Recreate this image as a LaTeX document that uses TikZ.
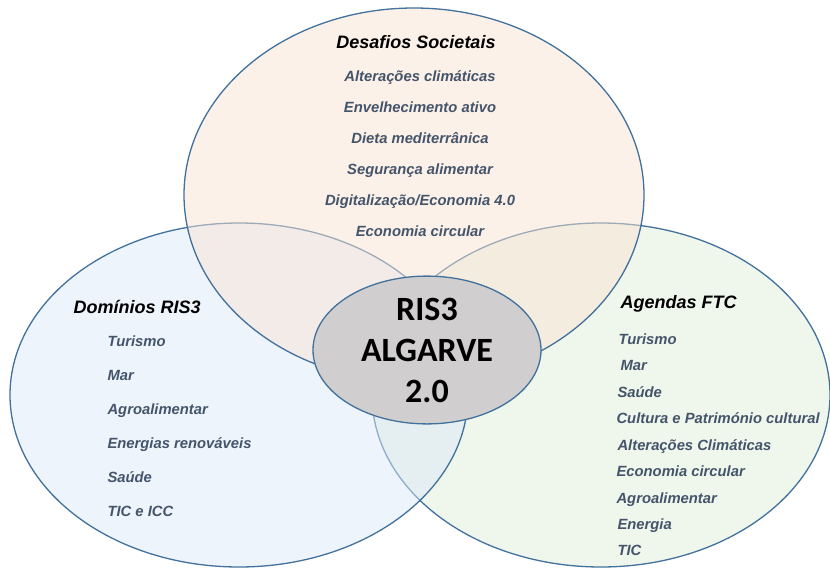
\documentclass[tikz,border=0pt]{standalone}
\usepackage{fontspec}
\setmainfont{Liberation Sans}
\newfontfamily\corefont{Carlito}
\usetikzlibrary{shapes.geometric}
\definecolor{setline}{HTML}{41719C}
\definecolor{desafiosfill}{HTML}{F9E3D3}
\definecolor{dominiosfill}{HTML}{DDE9F7}
\definecolor{agendasfill}{HTML}{DFEDD9}
\definecolor{corefill}{HTML}{D0CECE}
\definecolor{itemtext}{HTML}{44546A}
\begin{document}
\begin{tikzpicture}[x=1pt,y=-1pt,
  venn/.style={ellipse,draw=setline,line width=1.3pt,fill opacity=0.5,inner sep=0pt},
  head/.style={font=\fontsize{18}{20}\selectfont\bfseries\itshape,text=black,
    text height=13pt,text depth=0pt},
  item/.style={font=\fontsize{14.8}{17}\selectfont\bfseries\itshape,text=itemtext,
    text height=10.8pt,text depth=0pt}]
\useasboundingbox (0,0) rectangle (830,568);

% the three sets
\node[venn,fill=agendasfill,minimum width=458pt,minimum height=344pt] (agendas) at (601,395) {};
\node[venn,fill=dominiosfill,minimum width=458pt,minimum height=344pt] (dominios) at (239,395) {};
\node[venn,fill=desafiosfill,minimum width=460pt,minimum height=374pt] (desafios) at (414,195) {};

% core
\node[ellipse,draw=setline,line width=1.3pt,fill=corefill,inner sep=0pt,
  minimum width=228pt,minimum height=136pt,align=center,
  font=\corefont\bfseries\fontsize{34}{41}\selectfont] (core) at (427,350) {RIS3\\ALGARVE\\2.0};

% Desafios Societais
\node[head] (dstitle) at (416,42) {Desafios Societais};
\node[item] (ds1) at (420,76) {Alterações climáticas};
\node[item] (ds2) at (420,107) {Envelhecimento ativo};
\node[item] (ds3) at (420,138) {Dieta mediterrânica};
\node[item] (ds4) at (420,169) {Segurança alimentar};
\node[item] (ds5) at (420,200) {Digitalização/Economia 4.0};
\node[item] (ds6) at (420,231) {Economia circular};

% Dominios RIS3
\node[head,anchor=west] (drtitle) at (70,307) {Domínios RIS3};
\node[item,anchor=west] (dr1) at (104,341) {Turismo};
\node[item,anchor=west] (dr2) at (104,375) {Mar};
\node[item,anchor=west] (dr3) at (104,409) {Agroalimentar};
\node[item,anchor=west] (dr4) at (104,443) {Energias renováveis};
\node[item,anchor=west] (dr5) at (104,477) {Saúde};
\node[item,anchor=west] (dr6) at (104,511) {TIC e ICC};

% Agendas FTC
\node[head,anchor=west] (aftitle) at (617,302) {Agendas FTC};
\node[item,anchor=west] (af1) at (615,339) {Turismo};
\node[item,anchor=west] (af2) at (617,365) {Mar};
\node[item,anchor=west] (af3) at (614,392) {Saúde};
\node[item,anchor=west] (af4) at (613,418) {Cultura e Património cultural};
\node[item,anchor=west] (af5) at (614,445) {Alterações Climáticas};
\node[item,anchor=west] (af6) at (613,471) {Economia circular};
\node[item,anchor=west] (af7) at (613,498) {Agroalimentar};
\node[item,anchor=west] (af8) at (614,524) {Energia};
\node[item,anchor=west] (af9) at (614,550) {TIC};
\end{tikzpicture}
\end{document}
